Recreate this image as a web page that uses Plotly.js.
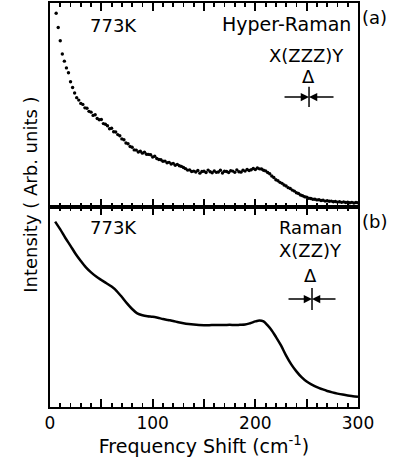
<!DOCTYPE html>
<html>
<head>
<meta charset="utf-8">
<script src="https://cdn.plot.ly/plotly-3.0.1.min.js"></script>
<style>
  html, body { margin: 0; padding: 0; background: #fff; }
  #chart { width: 395px; height: 463px; }
</style>
</head>
<body>
<div id="chart"></div>
<script>
// Hyper-Raman spectrum (panel a), dotted data, arbitrary units (0-100 of panel height)
const hyperShift = [6,8,10,12,14,16,18,20,22,24,26,28,30,32,34,36,38,40,42,44,46,48,50,52,54,56,58,60,62,64,66,68,70,72,74,76,78,80,82,84,86,88,90,92,94,96,98,100,102,104,106,108,110,112,114,116,118,120,122,124,126,128,130,132,134,136,138,140,142,144,146,148,150,152,154,156,158,160,162,164,166,168,170,172,174,176,178,180,182,184,186,188,190,192,194,196,198,200,202,204,206,208,210,212,214,216,218,220,222,224,226,228,230,232,234,236,238,240,242,244,246,248,250,252,254,256,258,260,262,264,266,268,270,272,274,276,278,280,282,284,286,288,290,292,294,296,298,300];
const hyperIntensity = [95.0,88.0,81.5,75.0,71.5,68.2,65.8,61.4,58.6,55.9,53.6,52.4,50.8,50.3,48.6,48.4,46.9,46.5,44.9,45.2,43.4,42.8,42.9,40.9,40.6,39.8,38.4,38.6,36.9,36.8,35.5,34.9,33.4,33.0,31.4,31.0,29.7,29.3,28.0,27.9,27.0,27.3,26.4,26.9,25.9,25.8,25.6,24.5,24.9,23.8,23.3,23.2,22.4,22.5,21.7,21.9,21.1,21.4,20.5,20.9,20.2,19.9,19.4,18.8,18.1,18.2,17.4,17.6,17.2,17.9,16.6,17.4,17.5,16.9,18.1,17.3,16.8,17.7,17.0,17.2,18.0,16.7,17.5,17.4,16.9,17.8,17.6,17.0,18.2,17.3,17.1,18.0,17.6,18.4,17.9,18.3,18.9,18.4,19.1,18.7,18.6,18.0,17.7,16.9,16.3,15.2,14.5,13.4,12.9,12.1,11.6,10.8,10.3,9.5,9.1,8.3,7.8,7.0,6.6,5.9,5.5,5.0,4.8,4.3,4.2,3.8,3.8,3.5,3.6,3.2,3.3,2.9,3.1,2.8,2.9,2.6,2.7,2.4,2.6,2.3,2.5,2.2,2.4,2.1,2.3,2.0,2.2,2.1];

// Raman spectrum (panel b), continuous line
const ramanShift = [5,10,15,20,25,30,35,40,45,50,55,60,65,70,75,80,85,90,95,100,105,110,115,120,125,130,135,140,145,150,155,160,165,170,175,180,185,190,195,200,204,208,212,216,220,225,230,235,240,245,250,255,260,265,270,275,280,285,290,295,300];
const ramanIntensity = [92.7,88.8,84.5,80.6,76.5,73.0,69.8,67.3,65.2,63.5,61.9,60.2,58.0,55.0,51.8,49.0,46.8,45.9,45.4,45.1,44.6,44.0,43.5,43.0,42.4,41.9,41.5,41.2,41.0,40.9,40.9,41.0,41.0,41.0,41.1,41.0,41.1,41.2,41.9,42.8,43.3,42.8,40.8,38.3,35.1,30.8,25.7,21.3,17.8,14.9,12.7,11.2,9.9,8.9,8.0,7.3,6.7,6.2,5.8,5.4,5.1];

// x tick labels (blank at the unlabelled 50-steps)
const xTickAlias = {'50': ' ', '150': ' ', '250': ' '};

const FONT = 'DejaVu Sans';

const traces = [
  {
    x: hyperShift, y: hyperIntensity, xaxis: 'x2', yaxis: 'y2',
    type: 'scatter', mode: 'markers',
    marker: {color: '#000', size: 3.4}
  },
  {
    x: ramanShift, y: ramanIntensity, xaxis: 'x', yaxis: 'y',
    type: 'scatter', mode: 'lines',
    line: {color: '#000', width: 2.5, shape: 'spline', smoothing: 0.8}
  }
];

const xCommon = {
  range: [0, 300], dtick: 50, labelalias: xTickAlias,
  ticks: 'inside', ticklen: 8, tickwidth: 1.8, tickcolor: '#000',
  minor: {dtick: 10, ticks: 'inside', ticklen: 4},
  showline: true, linecolor: '#000', linewidth: 2,
  mirror: 'ticks', gridcolor: 'rgba(0,0,0,0)', zeroline: false
};
const yCommon = {
  range: [0, 100], showticklabels: false, ticks: '',
  showline: true, linecolor: '#000', linewidth: 2, mirror: true,
  gridcolor: 'rgba(0,0,0,0)', zeroline: false
};

const txt = (text, xref, yref, x, y, size, xanchor) => ({
  text: text, xref: xref, yref: yref, x: x, y: y, showarrow: false,
  xanchor: xanchor || 'center', yanchor: 'middle',
  font: {family: FONT, size: size, color: '#000'}
});
const arrow = (xref, yref, x, y, ax) => ({
  text: '', xref: xref, yref: yref, x: x, y: y, ax: ax, ay: 0,
  axref: 'pixel', ayref: 'pixel', showarrow: true,
  arrowhead: 2, arrowsize: 1.1, arrowwidth: 1.5, arrowcolor: '#000', standoff: 0
});

const layout = {
  width: 395, height: 463,
  margin: {l: 50, r: 37, t: 3, b: 56},
  paper_bgcolor: '#fff', plot_bgcolor: 'rgba(0,0,0,0)',
  showlegend: false,
  xaxis: Object.assign({}, xCommon, {
    anchor: 'y', showticklabels: true,
    tickfont: {family: FONT, size: 17, color: '#000'},
    title: {text: 'Frequency Shift (cm<sup>-1</sup>)', font: {family: FONT, size: 19, color: '#000'}, standoff: 2}
  }),
  xaxis2: Object.assign({}, xCommon, {anchor: 'y2', showticklabels: false}),
  yaxis: Object.assign({}, yCommon, {domain: [0, 0.495], anchor: 'x'}),
  yaxis2: Object.assign({}, yCommon, {domain: [0.495, 1], anchor: 'x2'}),
  shapes: [
    {type: 'line', xref: 'x2', yref: 'y2 domain', x0: 252.3, x1: 252.3, y0: 0.49, y1: 0.59, line: {color: '#000', width: 1.5}},
    {type: 'line', xref: 'x', yref: 'y domain', x0: 255.2, x1: 255.2, y0: 0.485, y1: 0.595, line: {color: '#000', width: 1.5}}
  ],
  annotations: [
    txt('773K', 'x2', 'y2 domain', 61.4, 0.89, 18),
    txt('Hyper-Raman', 'x2', 'y2 domain', 295, 0.895, 19, 'right'),
    txt('X(ZZZ)Y', 'x2', 'y2 domain', 249.4, 0.745, 18),
    txt('Δ', 'x2', 'y2 domain', 251.3, 0.64, 18),
    arrow('x2', 'y2 domain', 252.3, 0.539, -26),
    arrow('x2', 'y2 domain', 252.3, 0.539, 26),
    txt('(a)', 'paper', 'paper', 1.055, 0.963, 18),

    txt('773K', 'x', 'y domain', 61.4, 0.9, 18),
    txt('Raman', 'x', 'y domain', 254.2, 0.9, 18),
    txt('X(ZZ)Y', 'x', 'y domain', 254.2, 0.785, 18),
    txt('Δ', 'x', 'y domain', 254.2, 0.66, 18),
    arrow('x', 'y domain', 255.2, 0.54, -25),
    arrow('x', 'y domain', 255.2, 0.54, 25),
    txt('(b)', 'paper', 'paper', 1.055, 0.458, 18),

    Object.assign(txt('Intensity ( Arb. units )', 'paper', 'paper', -0.062, 0.525, 18), {textangle: -90})
  ]
};

Plotly.newPlot('chart', traces, layout, {displayModeBar: false, staticPlot: true});
</script>
</body>
</html>
